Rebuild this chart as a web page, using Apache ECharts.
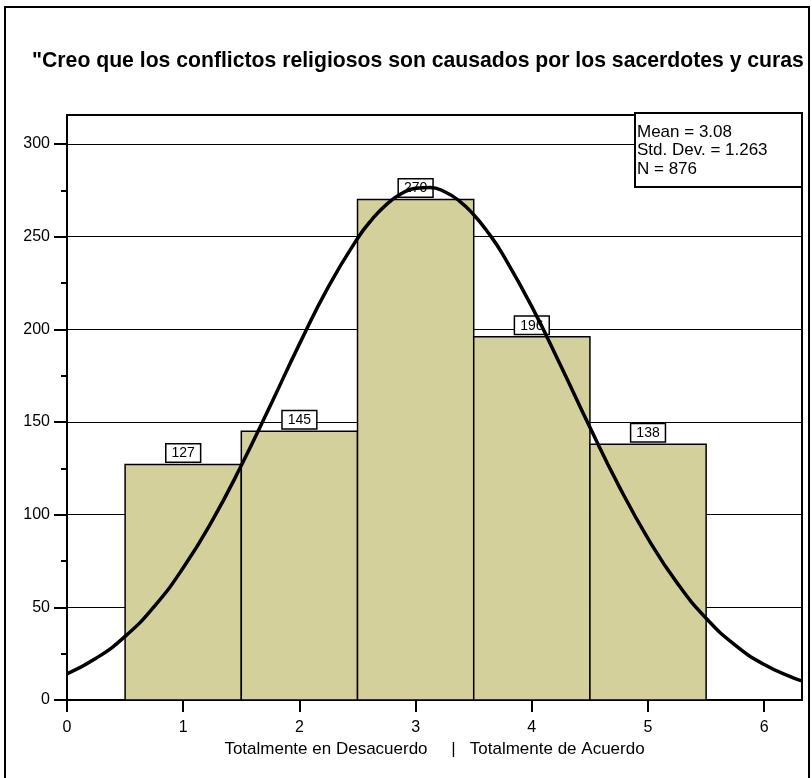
<!DOCTYPE html>
<html>
<head>
<meta charset="utf-8">
<script src="https://cdn.jsdelivr.net/npm/echarts@6/dist/echarts.min.js"></script>
<style>
  html, body { margin: 0; padding: 0; background: #fff; }
  #main { width: 812px; height: 778px; }
</style>
</head>
<body>
<div id="main"></div>
<script>
// datos del histograma
const categories = [1, 2, 3, 4, 5];
const counts = [127, 145, 270, 196, 138];
const yTicks = [0, 50, 100, 150, 200, 250, 300];
const yMinorTicks = [25, 75, 125, 175, 225, 275];
const xTicks = [0, 1, 2, 3, 4, 5, 6];
// curva normal
const curveX = [0, 0.25, 0.5, 0.75, 1, 1.25, 1.5, 1.75, 2, 2.25, 2.5, 2.625, 2.75, 2.875, 3, 3.125, 3.25, 3.375, 3.5, 3.625, 3.75, 4, 4.25, 4.5, 4.75, 5, 5.25, 5.5, 5.75, 6, 6.25, 6.33];
const curveY = [14.1, 22.5, 34.3, 50.4, 71.3, 96.8, 126.5, 158.9, 192, 223, 249, 259.3, 267.4, 273.1, 276.1, 276.5, 274.2, 269.3, 261.8, 252.1, 240.4, 212.2, 180.2, 147.1, 115.4, 87.1, 63.2, 44.1, 29.6, 19.1, 11.9, 10.2];
const statLines = ["Mean = 3.08", "Std. Dev. = 1.263", "N = 876"];

const FONT = "'Liberation Sans', Arial, sans-serif";
const chart = echarts.init(document.getElementById("main"));

var option = {
  backgroundColor: "#fff",
  animation: false,
  textStyle: { fontFamily: FONT },
  grid: {
    left: 67, right: 10, top: 115, bottom: 78,
    show: true, borderColor: "#000", borderWidth: 2,
  },
  xAxis: {
    type: "value",
    min: 0,
    max: 6.325,
    interval: 1,
    name: "Totalmente en Desacuerdo     |   Totalmente de Acuerdo",
    nameLocation: "middle",
    nameGap: 40,
    nameTextStyle: { color: "#000", fontSize: 17, fontFamily: FONT },
    axisLine: { onZero: false, lineStyle: { color: "#000", width: 2 } },
    axisTick: { customValues: xTicks, length: 12, lineStyle: { color: "#000", width: 2 } },
    axisLabel: { customValues: xTicks, color: "#000", fontSize: 16, margin: 20, fontFamily: FONT },
    splitLine: { show: false },
  },
  yAxis: [
    {
      type: "value",
      min: 0,
      max: 315.6,
      interval: 50,
      axisLine: { show: true, lineStyle: { color: "#000", width: 2 } },
      axisTick: { customValues: yTicks, length: 13, lineStyle: { color: "#000", width: 2 } },
      axisLabel: { customValues: yTicks, color: "#000", fontSize: 16, margin: 17, fontFamily: FONT },
      splitLine: { show: true, lineStyle: { color: "#000", width: 1.2 } },
    },
    {
      type: "value",
      min: 0,
      max: 315.6,
      position: "left",
      axisLine: { show: false },
      axisTick: { customValues: yMinorTicks, length: 6, lineStyle: { color: "#000", width: 2 } },
      axisLabel: { show: false },
      splitLine: { show: false },
    },
  ],
  series: [
    {
      type: "custom",
      z: 2,
      clip: true,
      data: categories.map((c, i) => [c, counts[i]]),
      renderItem: function (params, api) {
        const x = api.value(0);
        const v = api.value(1);
        const p0 = api.coord([x - 0.5, v]);
        const p1 = api.coord([x + 0.5, 0]);
        return {
          type: "group",
          children: [
            {
              type: "rect",
              shape: { x: p0[0], y: p0[1], width: p1[0] - p0[0], height: p1[1] - p0[1] },
              style: { fill: "#D4D09C", stroke: "#000", lineWidth: 1.5 },
            },
            {
              type: "text",
              x: (p0[0] + p1[0]) / 2,
              y: p0[1] - 3,
              style: {
                text: String(v),
                align: "center",
                verticalAlign: "bottom",
                fill: "#000",
                font: "14px " + FONT,
                backgroundColor: "#fff",
                borderColor: "#000",
                borderWidth: 1.5,
                padding: [2, 5, 1, 5],
              },
            },
          ],
        };
      },
    },
    {
      type: "line",
      z: 5,
      smooth: 0.5,
      symbol: "none",
      data: curveX.map((x, i) => [x, curveY[i]]),
      lineStyle: { color: "#000", width: 3.5 },
    },
  ],
  graphic: [
    {
      type: "text",
      z: 100,
      x: 32,
      y: 61,
      style: {
        text: "\"Creo que los conflictos religiosos son causados por los sacerdotes y curas",
        font: "bold 21.2px " + FONT,
        fill: "#000",
        verticalAlign: "middle",
      },
    },
    {
      type: "rect",
      z: 102,
      shape: { x: 809, y: 0, width: 3, height: 778 },
      style: { fill: "#fff" },
    },
    {
      type: "rect",
      z: 103,
      shape: { x: 5, y: 7, width: 804, height: 775 },
      style: { fill: "none", stroke: "#000", lineWidth: 2 },
    },
    {
      type: "rect",
      z: 100,
      shape: { x: 635, y: 113, width: 167, height: 74 },
      style: { fill: "#fff", stroke: "#000", lineWidth: 2 },
    },
    {
      type: "text",
      z: 101,
      x: 637,
      y: 123,
      style: {
        text: statLines.join("\n"),
        font: "17px " + FONT,
        lineHeight: 18.5,
        fill: "#000",
      },
    },
  ],
};

chart.setOption(option);
</script>
</body>
</html>
